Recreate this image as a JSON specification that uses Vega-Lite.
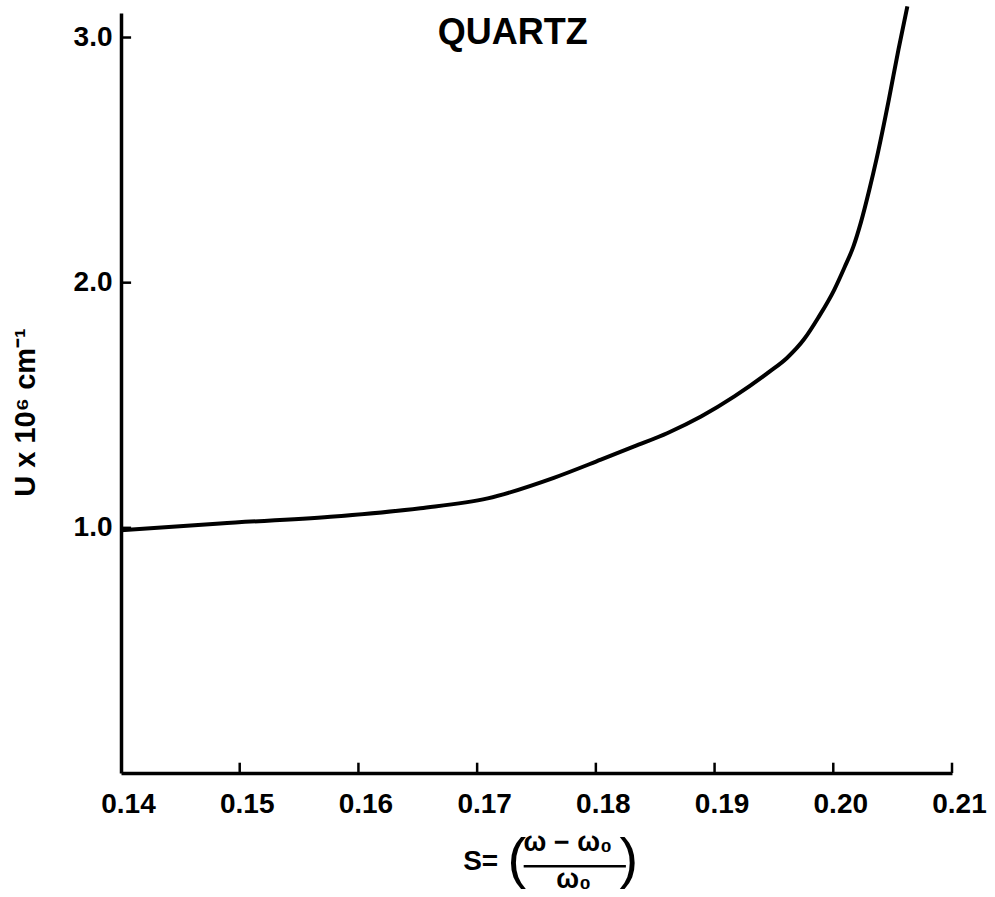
{
  "$schema": "https://vega.github.io/schema/vega-lite/v6.json",
  "width": 831,
  "height": 760,
  "autosize": {"type": "none"},
  "padding": {"left": 121, "top": 13, "right": 43, "bottom": 124},
  "background": "white",
  "config": {
    "view": {"stroke": null},
    "font": "Liberation Sans",
    "axis": {
      "domainColor": "black",
      "domainWidth": 3.5,
      "ticks": false,
      "grid": false,
      "labelColor": "black",
      "labelFont": "Liberation Sans",
      "labelFontWeight": "bold",
      "labelFontSize": 28,
      "labelFlush": false,
      "titleColor": "black",
      "titleFont": "Liberation Sans",
      "titleFontWeight": "bold"
    }
  },
  "layer": [
    {
      "data": {
        "values": [
          {"s": 0.14000, "u": 0.990},
          {"s": 0.14835, "u": 1.018},
          {"s": 0.15764, "u": 1.045},
          {"s": 0.16523, "u": 1.080},
          {"s": 0.17089, "u": 1.120},
          {"s": 0.17646, "u": 1.204},
          {"s": 0.18042, "u": 1.278},
          {"s": 0.18323, "u": 1.332},
          {"s": 0.18605, "u": 1.387},
          {"s": 0.18886, "u": 1.454},
          {"s": 0.19167, "u": 1.536},
          {"s": 0.19460, "u": 1.636},
          {"s": 0.19612, "u": 1.694},
          {"s": 0.19755, "u": 1.770},
          {"s": 0.19873, "u": 1.857},
          {"s": 0.20008, "u": 1.971},
          {"s": 0.20097, "u": 2.065},
          {"s": 0.20169, "u": 2.147},
          {"s": 0.20232, "u": 2.245},
          {"s": 0.20304, "u": 2.380},
          {"s": 0.20363, "u": 2.502},
          {"s": 0.20468, "u": 2.747},
          {"s": 0.20549, "u": 2.951},
          {"s": 0.20624, "u": 3.127}
        ]
      },
      "mark": {"type": "line", "color": "black", "strokeWidth": 4, "interpolate": "monotone", "clip": false},
      "encoding": {
        "x": {
          "field": "s",
          "type": "quantitative",
          "scale": {"domain": [0.14, 0.21], "nice": false, "zero": false},
          "axis": {
            "values": [0.14, 0.15, 0.16, 0.17, 0.18, 0.19, 0.20, 0.21],
            "format": ".2f",
            "labelPadding": 17,
            "labelOffset": 7,
            "title": null
          }
        },
        "y": {
          "field": "u",
          "type": "quantitative",
          "scale": {"domain": [0, 3.1], "nice": false, "zero": true},
          "axis": {
            "values": [1, 2, 3],
            "format": ".1f",
            "labelPadding": 9,
            "title": "U x 10⁶ cm⁻¹",
            "titleFontSize": 29,
            "titleAngle": -90,
            "titleX": -96,
            "titleY": 399,
            "titleAlign": "center",
            "titleBaseline": "middle"
          }
        }
      }
    },
    {
      "data": {"values": [{"s": 0.15}, {"s": 0.16}, {"s": 0.17}, {"s": 0.18}, {"s": 0.19}, {"s": 0.20}, {"s": 0.21}]},
      "mark": {"type": "rule", "color": "black", "strokeWidth": 2.5},
      "encoding": {
        "x": {"field": "s", "type": "quantitative"},
        "y": {"datum": 0, "type": "quantitative"},
        "y2": {"datum": 0.042}
      }
    },
    {
      "data": {"values": [{"u": 1}, {"u": 2}, {"u": 3}]},
      "mark": {"type": "rule", "color": "black", "strokeWidth": 2.5},
      "encoding": {
        "y": {"field": "u", "type": "quantitative"},
        "x": {"datum": 0.14, "type": "quantitative"},
        "x2": {"datum": 0.14085}
      }
    },
    {
      "data": {"values": [{"label": "QUARTZ"}]},
      "mark": {"type": "text", "fontSize": 36, "fontWeight": "bold", "color": "black", "align": "center", "baseline": "middle"},
      "encoding": {
        "x": {"datum": 0.1730, "type": "quantitative"},
        "y": {"datum": 3.02, "type": "quantitative"},
        "text": {"field": "label"}
      }
    },
    {
      "data": {"values": [{"label": "S="}]},
      "mark": {"type": "text", "fontSize": 28, "fontWeight": "bold", "color": "black", "align": "center", "baseline": "middle"},
      "encoding": {
        "x": {"datum": 0.1703, "type": "quantitative"},
        "y": {"datum": -0.363, "type": "quantitative"},
        "text": {"field": "label"}
      }
    },
    {
      "data": {"values": [{"label": "("}]},
      "mark": {"type": "text", "fontSize": 56, "color": "black", "align": "center", "baseline": "middle"},
      "encoding": {
        "x": {"datum": 0.17335, "type": "quantitative"},
        "y": {"datum": -0.355, "type": "quantitative"},
        "text": {"field": "label"}
      }
    },
    {
      "data": {"values": [{"label": ")"}]},
      "mark": {"type": "text", "fontSize": 56, "color": "black", "align": "center", "baseline": "middle"},
      "encoding": {
        "x": {"datum": 0.18278, "type": "quantitative"},
        "y": {"datum": -0.355, "type": "quantitative"},
        "text": {"field": "label"}
      }
    },
    {
      "data": {"values": [{"label": "ω − ω₀"}]},
      "mark": {"type": "text", "fontSize": 27, "fontWeight": "bold", "color": "black", "align": "center", "baseline": "middle"},
      "encoding": {
        "x": {"datum": 0.17764, "type": "quantitative"},
        "y": {"datum": -0.286, "type": "quantitative"},
        "text": {"field": "label"}
      }
    },
    {
      "data": {"values": [{"label": "ω₀"}]},
      "mark": {"type": "text", "fontSize": 27, "fontWeight": "bold", "color": "black", "align": "center", "baseline": "middle"},
      "encoding": {
        "x": {"datum": 0.17814, "type": "quantitative"},
        "y": {"datum": -0.437, "type": "quantitative"},
        "text": {"field": "label"}
      }
    },
    {
      "data": {"values": [{"part": "fraction bar"}]},
      "mark": {"type": "rule", "color": "black", "strokeWidth": 2.5},
      "encoding": {
        "x": {"datum": 0.17392, "type": "quantitative"},
        "x2": {"datum": 0.18253},
        "y": {"datum": -0.380, "type": "quantitative"}
      }
    }
  ]
}
